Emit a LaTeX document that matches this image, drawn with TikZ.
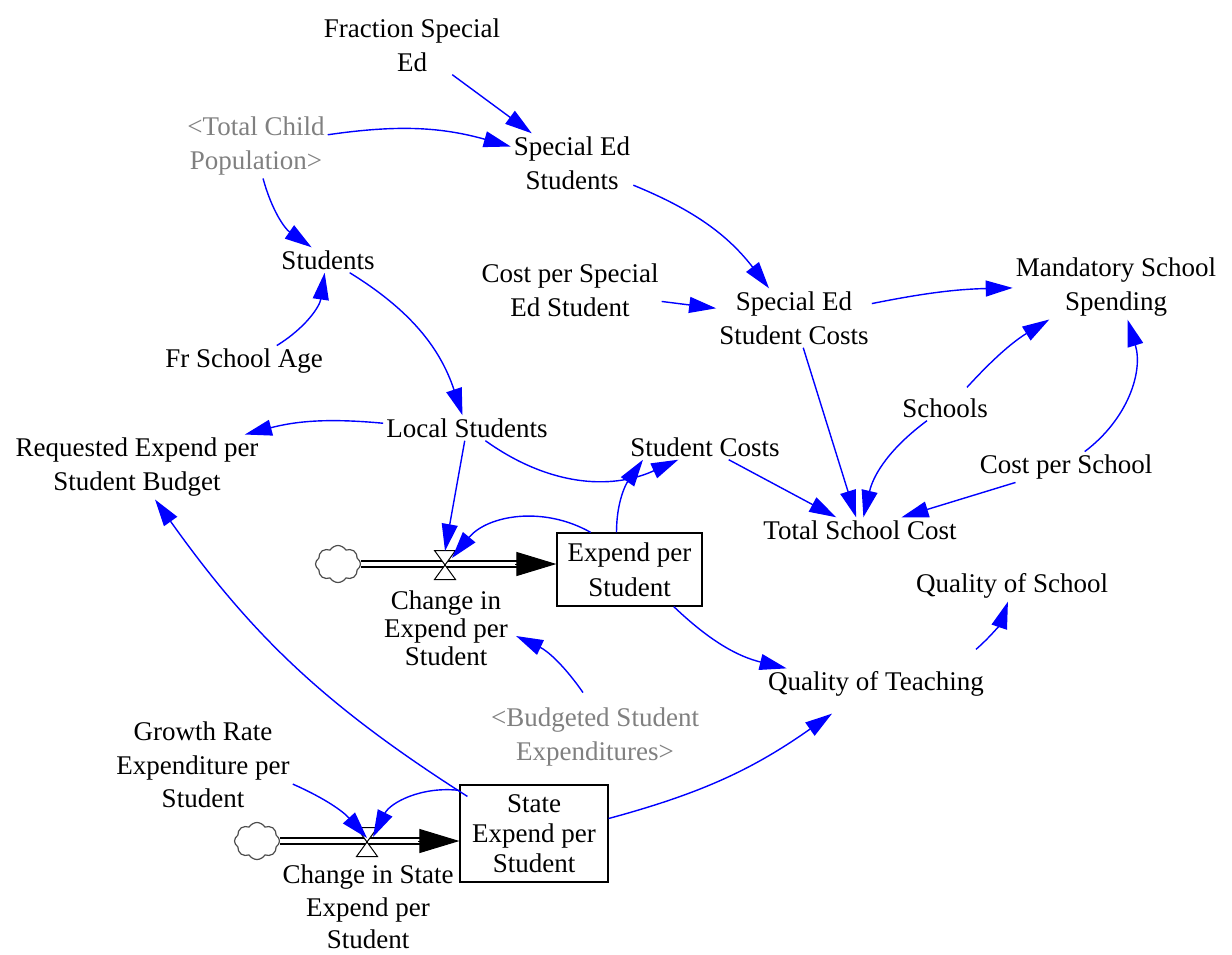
\documentclass[tikz,border=0pt]{standalone}
\usepackage{fontspec}
\setmainfont{Liberation Serif}
\usetikzlibrary{arrows.meta,shapes.symbols}
\definecolor{linkblue}{RGB}{0,0,255}
\definecolor{shadowgray}{RGB}{128,128,128}
\begin{document}
\begin{tikzpicture}[x=1pt,y=1pt,
  var/.style={font=\fontsize{27}{34}\selectfont, align=center, inner sep=3pt},
  shadow/.style={var, text=shadowgray},
  stock/.style={var, draw, line width=1.2pt, inner sep=0pt},
  link/.style={linkblue, line width=1.4pt, -{Triangle[length=27pt,width=16pt]}},
  pipe/.style={double=white, double distance=4.5pt, line width=1.6pt},
  flowhead/.style={black, line width=1pt, -{Triangle[length=40pt,width=24pt]}},
  valveshape/.style={draw=black, fill=white, line width=1pt},
  source/.style={cloud, cloud puffs=8, cloud puff arc=120, cloud ignores aspect,
    draw=black!70, line width=1.2pt, minimum width=45pt, minimum height=37pt, inner sep=0pt},
  valve/.style={minimum width=21pt, minimum height=29pt, inner sep=0pt, outer sep=0pt}]
\useasboundingbox (0,0) rectangle (1232,-954);

% auxiliaries and constants
\node[var] (fse) at (412,-45) {Fraction Special\\Ed};
\node[shadow] (tcp) at (256,-146) {<Total Child\\Population>};
\node[var] (sped) at (572,-163) {Special Ed\\Students};
\node[var] (stu) at (328,-260) {Students};
\node[var] (cpse) at (570,-290) {Cost per Special\\Ed Student};
\node[var] (sesc) at (794,-318) {Special Ed\\Student Costs};
\node[var] (mss) at (1116,-287) {Mandatory School\\Spending};
\node[var] (fsa) at (244,-361) {Fr School Age};
\node[var] (ls) at (467,-428) {Local Students};
\node[var] (sch) at (945,-408) {Schools};
\node[var] (req) at (137,-467) {Requested Expend per\\Student Budget};
\node[var] (sc) at (705,-447) {Student Costs};
\node[var] (cps) at (1066,-467) {Cost per School};
\node[var] (tsc) at (860,-530) {Total School Cost};
\node[var] (qos) at (1012,-586) {Quality of School};
\node[var] (qot) at (876,-684) {Quality of Teaching};
\node[shadow] (bse) at (595,-737) {<Budgeted Student\\Expenditures>};
\node[var, font=\fontsize{27}{33.5}\selectfont] (gr) at (203,-765) {Growth Rate\\Expenditure per\\Student};

% stocks
\node[stock, minimum width=145pt, minimum height=73pt, font=\fontsize{27}{35}\selectfont]
  (eps) at (629.5,-569.5) {Expend per\\Student};
\node[stock, minimum width=148pt, minimum height=97pt, font=\fontsize{27}{30}\selectfont]
  (sep) at (534,-833.5) {State\\Expend per\\Student};

% sources
\node[source] (c1) at (338,-564) {};
\node[source] (c2) at (257,-841) {};

% valves and their labels
\node[valve] (v1) at (445,-565) {};
\node[valve] (v2) at (367,-842) {};
\node[var, font=\fontsize{27}{28}\selectfont] (cv1) at (446,-628) {Change in\\Expend per\\Student};
\node[var, font=\fontsize{27}{32.5}\selectfont] (cv2) at (368,-907) {Change in State\\Expend per\\Student};

% flow pipes
\draw[pipe] (c1.east) -- ([xshift=-38pt]c1.east -| eps.west);
\draw[flowhead] ([xshift=-41pt]c1.east -| eps.west) -- (c1.east -| eps.west);
\draw[pipe] (c2.east) -- ([xshift=-38pt]c2.east -| sep.west);
\draw[flowhead] ([xshift=-41pt]c2.east -| sep.west) -- (c2.east -| sep.west);

\draw[valveshape] (v1.north west) -- (v1.north east) -- (v1.south west) -- (v1.south east) -- cycle;
\draw[valveshape] (v2.north west) -- (v2.north east) -- (v2.south west) -- (v2.south east) -- cycle;

% causal links
\draw[link] (fse) -- (sped);
\draw[link] (tcp) to[bend left=12] (sped);
\draw[link] (tcp) to[bend right=20] (stu);
\draw[link] (sped) to[bend left=15] (sesc);
\draw[link] (cpse) -- (sesc);
\draw[link] (sesc) to[bend left=5] (mss);
\draw[link] ([shift={(22pt,8pt)}]sch.north) to[bend left=8] (mss);
\draw[link] (cps) to[bend right=35] (mss);
\draw[link] (fsa) to[bend right=25] (stu);
\draw[link] (stu) to[bend left=20] (ls);
\draw[link] (ls) to[bend right=10] (req);
\draw[link] (ls) to[bend right=30] (sc);
\draw[link] (ls) -- ([yshift=14pt]v1.center);
\draw[link] (sesc) -- (tsc);
\draw[link] (sch) to[bend right=20] (tsc);
\draw[link] (cps) -- (tsc);
\draw[link] (sc) -- (tsc);
\draw[link] ([xshift=-13pt]eps.north) to[out=90,in=235] ([xshift=-62pt]sc.south);
\draw[link] (eps) to[bend right=40] ([shift={(7pt,7pt)}]v1.center);
\draw[link] (eps) to[bend right=15] (qot);
\draw[link] ([shift={(-11pt,19pt)}]qot.north east) to[bend right=15] (qos);
\draw[link] ([shift={(-12pt,12pt)}]bse.north) to[bend right=15] ([shift={(5pt,-8pt)}]cv1.east);
\draw[link] ([yshift=15pt]sep.east) to[bend right=10] ([shift={(-44pt,-14pt)}]qot.south);
\draw[link] ([shift={(8pt,-12pt)}]sep.north west) to[bend left=11] ([xshift=18pt]req.south);
\draw[link] (gr) to[bend left=12] ([yshift=4pt]v2.center);
\draw[link] ([yshift=-6pt]sep.north west) to[bend right=35] ([shift={(6pt,5pt)}]v2.center);
\end{tikzpicture}
\end{document}
